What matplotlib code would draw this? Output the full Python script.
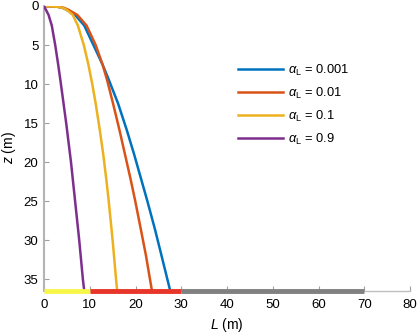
import matplotlib
matplotlib.use("Agg")
import matplotlib.pyplot as plt

plt.rcParams['font.family'] = ['Liberation Sans', 'DejaVu Sans']
plt.rcParams['mathtext.fontset'] = 'custom'
plt.rcParams['mathtext.it'] = 'Liberation Sans:italic'
plt.rcParams['mathtext.rm'] = 'Liberation Sans'

# Data: depth z (m) and lateral extent L (m) for each alpha_L
labels = ["0.001", "0.01", "0.1", "0.9"]
colors = ["#0072BD", "#D95319", "#EDB120", "#7E2F8E"]

z_blue = [0, 0.1, 0.25, 0.5, 1.15, 2.5, 5, 7.5, 9.5, 12.5, 15.9, 19, 22.1, 25, 28.7, 32, 36.5]
L_blue = [0, 3.0, 4.1, 5.0, 6.8, 8.8, 10.8, 12.8, 14.2, 16.2, 18.1, 19.7, 21.2, 22.6, 24.3, 25.7, 27.6]

z_orange = [0, 0.1, 0.25, 0.5, 1.15, 2.5, 5, 7.5, 9.5, 12.5, 15.9, 19, 22.1, 25, 28.7, 32, 36.5]
L_orange = [0, 3.0, 4.4, 5.4, 7.3, 9.3, 11.3, 12.8, 13.8, 15.1, 16.5, 17.7, 18.9, 19.95, 21.2, 22.3, 23.6]

z_yellow = [0, 0.1, 0.25, 0.5, 1.15, 2.5, 5, 7.5, 10, 12.5, 15.9, 19, 22.1, 25, 30, 35, 36.5]
L_yellow = [0, 3.0, 4.1, 5.0, 6.3, 7.4, 8.7, 9.7, 10.55, 11.3, 12.2, 12.95, 13.6, 14.15, 15.0, 15.75, 16.0]

z_purple = [0, 1.15, 2.5, 5, 7.5, 10, 15, 20, 25, 30, 35, 36.5]
L_purple = [0, 1.0, 1.7, 2.45, 3.1, 3.7, 4.85, 5.9, 6.8, 7.7, 8.5, 8.8]

# Bottom segments along the base
seg_start = [0, 10, 30]
seg_end = [10, 30, 70]
seg_colors = ["#F7F74A", "#E8352A", "#808080"]

z_base = 36.5

fig = plt.figure(figsize=(4.17, 3.34), dpi=100)
ax = fig.add_axes([44/417, 1-291/334, 366/417, 285/334])

series = [(L_blue, z_blue), (L_orange, z_orange), (L_yellow, z_yellow), (L_purple, z_purple)]
for (L, z), c, lab in zip(series, colors, labels):
    ax.plot(L, z, color=c, lw=1.8, label=r"$\alpha_\mathrm{L}$ = " + lab, zorder=3,
            solid_joinstyle='round')

for s, e, c in zip(seg_start, seg_end, seg_colors):
    ax.plot([s, e], [z_base, z_base], color=c, lw=3.5, solid_capstyle='butt', clip_on=False, zorder=4)

ax.set_xlim(0, 80)
ax.set_ylim(36.5, 0)
ax.set_xticks(range(0, 81, 10))
ax.set_yticks(range(0, 36, 5))

for s in ['top', 'right']:
    ax.spines[s].set_visible(False)
ax.spines['left'].set_color('#b4b4b4')
ax.spines['left'].set_linewidth(1.5)
ax.spines['bottom'].set_color('#c0c0c0')
ax.spines['bottom'].set_linewidth(1.0)
ax.tick_params(direction='in', length=3.5, color='#a0a0a0', labelsize=9.5)
ax.tick_params(axis='x', pad=6)
ax.tick_params(axis='y', pad=4)

ax.set_xlabel(r"$L$ (m)", fontsize=10)
ax.set_ylabel(r"$z$ (m)", fontsize=10)
ax.xaxis.set_label_coords(0.5, -(325-291)/285, transform=ax.transAxes)
ax.yaxis.set_label_coords(-(44-9)/366, (291-148)/285, transform=ax.transAxes)
ax.xaxis.label.set_verticalalignment('center')
ax.yaxis.label.set_verticalalignment('center')

leg = ax.legend(loc='upper left', bbox_to_anchor=(238/417, 1-62.5/334), bbox_transform=fig.transFigure,
                frameon=False, fontsize=9.3, handlelength=3.5, handletextpad=0.4,
                labelspacing=0.62, borderpad=0, borderaxespad=0)

fig.savefig("out.png", dpi=100)
